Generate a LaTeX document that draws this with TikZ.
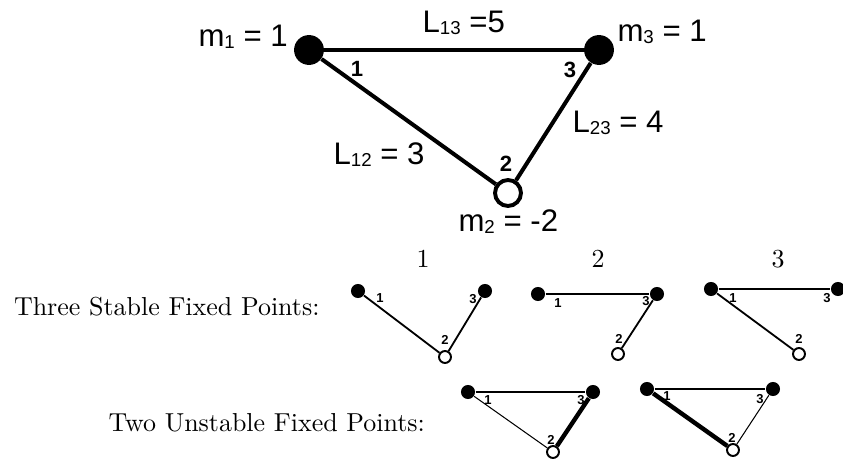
\documentclass[tikz,border=0pt]{standalone}
\usepackage{fontspec}
\newfontfamily\labfont{Liberation Sans}
\newcommand{\sbs}[1]{\raisebox{-0.7pt}{\fontsize{7.2}{8}\selectfont #1}}
\begin{document}
\begin{tikzpicture}[x=0.385pt,y=-0.385pt,
  bigdot/.style={circle,fill=black,inner sep=0pt,minimum size=11.5pt},
  bigopen/.style={circle,draw=black,fill=white,line width=1.5pt,inner sep=0pt,minimum size=10pt},
  smalldot/.style={circle,fill=black,inner sep=0pt,minimum size=5.4pt},
  smallopen/.style={circle,draw=black,fill=white,line width=0.75pt,inner sep=0pt,minimum size=4.6pt},
  biglink/.style={line width=1.55pt},
  link/.style={line width=0.7pt},
  thinlink/.style={line width=0.4pt},
  medlink/.style={line width=1.1pt},
  thicklink/.style={line width=1.7pt},
  lab/.style={font=\labfont\fontsize{12}{14}\selectfont,inner sep=0pt,anchor=base west},
  bignum/.style={font=\labfont\bfseries\fontsize{8.5}{10}\selectfont,inner sep=0pt,anchor=base},
  smallnum/.style={font=\labfont\bfseries\fontsize{5}{6}\selectfont,inner sep=0pt},
  captext/.style={font=\fontsize{10}{12}\selectfont,inner sep=0pt},
  headtext/.style={font=\fontsize{10}{12}\selectfont,inner sep=0pt,anchor=base},
]
\useasboundingbox (0,0) rectangle (843,462);

% ---- main diagram ----
\node[bigdot] (t1) at (309,50) {};
\node[bigdot] (t3) at (599,50) {};
\node[bigopen] (t2) at (508,193) {};
\draw[biglink] (t1) -- (t3);
\draw[biglink] (t1) -- (t2);
\draw[biglink] (t3) -- (t2);

\node[lab] (lm1) at (198,47) {m\sbs{1} = 1};
\node[lab] (lm3) at (617,42) {m\sbs{3} = 1};
\node[lab] (l13) at (422,33) {L\sbs{13} =5};
\node[lab] (l23) at (572,133) {L\sbs{23} = 4};
\node[lab] (l12) at (333,165) {L\sbs{12} = 3};
\node[lab] (lm2) at (458,232) {m\sbs{2} = -2};
\node[bignum] (n1) at (357,77) {1};
\node[bignum] (n3) at (570,78) {3};
\node[bignum] (n2) at (506,172) {2};

% ---- headings and captions ----
\node[headtext] (h1) at (423,268) {1};
\node[headtext] (h2) at (598,268) {2};
\node[headtext] (h3) at (778,268) {3};
\node[captext,anchor=base east] (cap1) at (320,316) {Three Stable Fixed Points:};
\node[captext,anchor=base west] (cap2) at (108,432) {Two Unstable Fixed Points:};

% ---- stable 1 ----
\node[smalldot] (a1) at (358,291) {};
\node[smalldot] (a3) at (485,291) {};
\node[smallopen] (a2) at (445,357) {};
\draw[link] (a1) -- (a2);
\draw[link] (a3) -- (a2);
\node[smallnum] (a1l) at (380,298) {1};
\node[smallnum] (a3l) at (473,299) {3};
\node[smallnum] (a2l) at (445,340) {2};

% ---- stable 2 ----
\node[smalldot] (b1) at (538,294) {};
\node[smalldot] (b3) at (657,294) {};
\node[smallopen] (b2) at (618,354) {};
\draw[link] (b1) -- (b3);
\draw[link] (b3) -- (b2);
\node[smallnum] (b1l) at (558,303) {1};
\node[smallnum] (b3l) at (646,301) {3};
\node[smallnum] (b2l) at (619,339) {2};

% ---- stable 3 ----
\node[smalldot] (c1) at (711,289) {};
\node[smalldot] (c3) at (838,289) {};
\node[smallopen] (c2) at (799,354) {};
\draw[link] (c1) -- (c3);
\draw[link] (c1) -- (c2);
\node[smallnum] (c1l) at (733,298) {1};
\node[smallnum] (c3l) at (827,298) {3};
\node[smallnum] (c2l) at (799,339) {2};

% ---- unstable 1 ----
\node[smalldot] (d1) at (468,392) {};
\node[smalldot] (d3) at (593,392) {};
\node[smallopen] (d2) at (553,452) {};
\draw[medlink] (d1) -- (d3);
\draw[thinlink] (d1) -- (d2);
\draw[thicklink] (d3) -- (d2);
\node[smallnum] (d1l) at (488,400) {1};
\node[smallnum] (d3l) at (581,400) {3};
\node[smallnum] (d2l) at (551,440) {2};

% ---- unstable 2 ----
\node[smalldot] (e1) at (647,389) {};
\node[smalldot] (e3) at (773,389) {};
\node[smallopen] (e2) at (733,450) {};
\draw[medlink] (e1) -- (e3);
\draw[thicklink] (e1) -- (e2);
\draw[thinlink] (e3) -- (e2);
\node[smallnum] (e1l) at (667,396) {1};
\node[smallnum] (e3l) at (760,399) {3};
\node[smallnum] (e2l) at (732,438) {2};
\end{tikzpicture}
\end{document}
